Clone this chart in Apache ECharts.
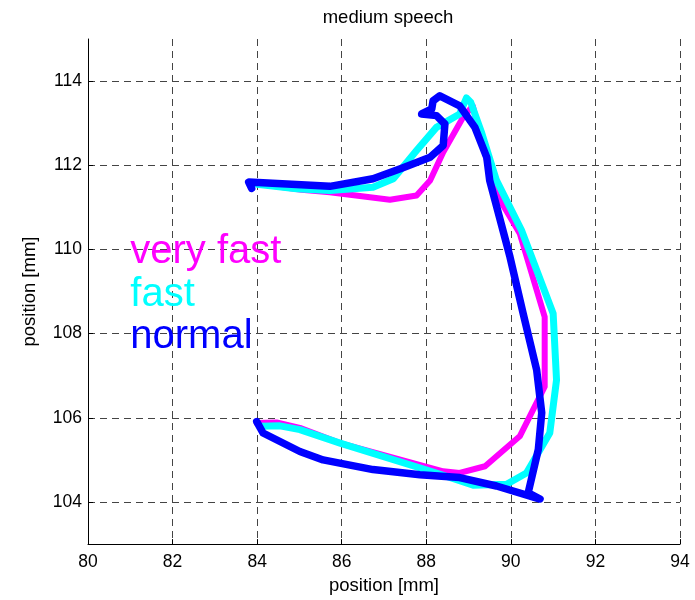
<!DOCTYPE html>
<html>
<head>
<meta charset="utf-8">
<script src="https://cdn.jsdelivr.net/npm/echarts@6/dist/echarts.min.js"></script>
<style>
  html, body { margin: 0; padding: 0; background: #fff; }
  #chart { width: 695px; height: 600px; }
</style>
</head>
<body>
<div id="chart"></div>
<script>
// Tongue-tip trajectories (x, y positions in mm) for three speaking rates
const veryFastPath = [
  [84.10, 111.55], [85.05, 111.42], [85.72, 111.36], [87.14, 111.18], [87.77, 111.28],
  [88.09, 111.64], [88.40, 112.31], [88.87, 113.14], [89.10, 113.41], [89.30, 112.60],
  [89.66, 111.32], [90.21, 110.38], [90.80, 108.40], [90.80, 106.74], [90.21, 105.56],
  [89.39, 104.85], [88.79, 104.69], [88.40, 104.73], [85.96, 105.40], [85.01, 105.76],
  [84.46, 105.89], [83.99, 105.88]
];
const fastPath = [
  [84.00, 111.55], [84.93, 111.44], [85.72, 111.40], [86.74, 111.48], [87.22, 111.68],
  [87.77, 112.35], [88.24, 112.90], [88.79, 113.22], [88.95, 113.60], [89.05, 113.50],
  [89.30, 112.80], [89.66, 111.64], [90.25, 110.46], [91.00, 108.48], [91.08, 106.90],
  [90.92, 105.64], [90.37, 104.69], [89.90, 104.42], [89.11, 104.40], [88.20, 104.70],
  [85.96, 105.40], [85.01, 105.72], [84.54, 105.81], [84.07, 105.80]
];
const normalPath = [
  [83.87, 111.45], [83.80, 111.60], [85.72, 111.50], [86.74, 111.68], [87.45, 111.94],
  [88.09, 112.19], [88.40, 112.47], [88.44, 112.98], [88.24, 113.18], [87.89, 113.22],
  [88.13, 113.34], [88.16, 113.53], [88.32, 113.65], [88.79, 113.41], [89.15, 112.90],
  [89.43, 112.19], [89.50, 111.64], [89.98, 109.82], [90.29, 108.48], [90.61, 107.14],
  [90.73, 106.12], [90.65, 105.25], [90.41, 104.22], [90.69, 104.07], [89.66, 104.38],
  [88.79, 104.58], [87.85, 104.65], [86.74, 104.77], [85.56, 105.00], [85.01, 105.20],
  [84.14, 105.64], [83.99, 105.91]
];

// In-plot labels: text, anchor position [mm]
const labelNames = ['very fast', 'fast', 'normal'];
const labelAnchors = [[81, 110], [81, 109], [81, 108]];
const seriesColors = ['#ff00ff', '#00ffff', '#0000ff'];
const lineWidths = [6, 7, 7.5];
const paths = [veryFastPath, fastPath, normalPath];

const FONT = '"Liberation Sans", Arial, sans-serif';

const chart = echarts.init(document.getElementById('chart'), null, { renderer: 'canvas' });

const series = [];
paths.forEach((p, i) => {
  series.push({
    name: labelNames[i],
    type: 'line',
    data: p,
    showSymbol: false,
    symbol: 'none',
    smooth: false,
    silent: true,
    z: 3 + i,
    lineStyle: { color: seriesColors[i], width: lineWidths[i], cap: 'round', join: 'round' }
  });
});
labelNames.forEach((name, i) => {
  series.push({
    type: 'scatter',
    data: [labelAnchors[i]],
    symbolSize: 0,
    silent: true,
    z: 10,
    itemStyle: { opacity: 1, color: seriesColors[i] },
    label: {
      show: true,
      formatter: name,
      position: [0, 0],
      offset: [0, 3],
      align: 'left',
      verticalAlign: 'middle',
      color: seriesColors[i],
      opacity: 1,
      textBorderWidth: 0,
      fontSize: 40,
      fontFamily: FONT
    }
  });
});

const gridDash = { color: '#444', width: 1, type: [7, 5] };

chart.setOption({
  animation: false,
  backgroundColor: '#fff',
  title: {
    text: 'medium speech',
    left: 383,
    top: 3,
    textAlign: 'center',
    textStyle: { fontSize: 18.5, fontWeight: 'normal', color: '#000', fontFamily: FONT }
  },
  grid: { left: 88, right: 15, top: 39, bottom: 55, containLabel: false },
  xAxis: {
    type: 'value',
    min: 80,
    max: 94,
    interval: 2,
    name: 'position [mm]',
    nameLocation: 'middle',
    nameGap: 31,
    nameTextStyle: { fontSize: 18.5, color: '#000', fontFamily: FONT },
    axisLine: { show: true, onZero: false, lineStyle: { color: '#000', width: 1 } },
    axisTick: { show: true, inside: true, length: 5, lineStyle: { color: '#000' } },
    axisLabel: { fontSize: 17.5, color: '#000', fontFamily: FONT, margin: 9 },
    splitLine: { show: true, lineStyle: gridDash, showMinLine: false }
  },
  yAxis: {
    type: 'value',
    min: 103,
    max: 115,
    splitNumber: 6,
    name: 'position [mm]',
    nameLocation: 'middle',
    nameGap: 49,
    nameRotate: 90,
    nameTextStyle: { fontSize: 18.5, color: '#000', fontFamily: FONT },
    axisLine: { show: true, onZero: false, lineStyle: { color: '#000', width: 1 } },
    axisTick: { show: true, inside: true, length: 5, lineStyle: { color: '#000' } },
    axisLabel: { fontSize: 17.5, color: '#000', fontFamily: FONT, margin: 6,
                 showMinLabel: false, showMaxLabel: false },
    splitLine: { show: true, lineStyle: gridDash, showMinLine: false, showMaxLine: false }
  },
  series: series
});
</script>
</body>
</html>
